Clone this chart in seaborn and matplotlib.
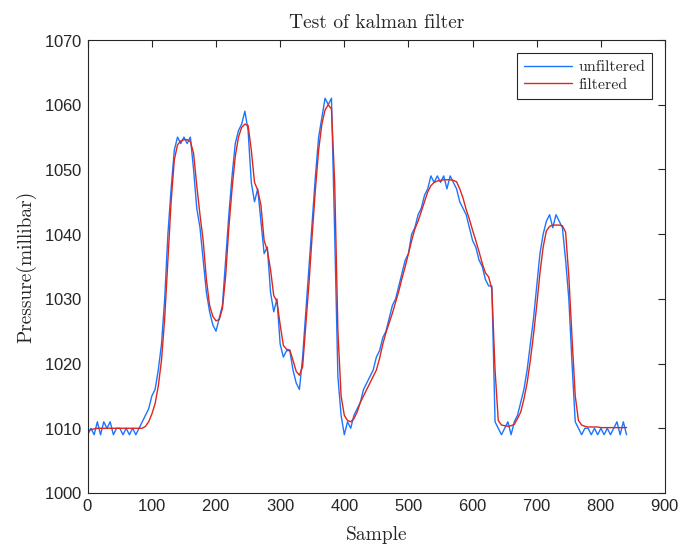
import seaborn as sns
import pandas as pd
import numpy as np
import matplotlib.pyplot as plt

# sample index every 5 samples
samples = list(range(0, 845, 5))

unfiltered = [
    1009, 1010, 1009, 1011, 1009, 1011, 1010, 1011, 1009, 1010,
    1010, 1009, 1010, 1009, 1010, 1009, 1010, 1011, 1012, 1013,
    1015, 1016, 1019, 1023, 1030, 1040, 1047, 1053, 1055, 1054,
    1055, 1054, 1055, 1050, 1044, 1041, 1036, 1031, 1028, 1026,
    1025, 1027, 1029, 1036, 1043, 1049, 1054, 1056, 1057, 1059,
    1056, 1048, 1045, 1047, 1042, 1037, 1038, 1031, 1028, 1030,
    1023, 1021, 1022, 1022, 1019, 1017, 1016, 1021, 1028, 1035,
    1042, 1049, 1055, 1058, 1061, 1060, 1061, 1040, 1018, 1012,
    1009, 1011, 1010, 1012, 1013, 1014, 1016, 1017, 1018, 1019,
    1021, 1022, 1024, 1025, 1027, 1029, 1030, 1032, 1034, 1036,
    1037, 1040, 1041, 1043, 1044, 1046, 1047, 1049, 1048, 1049,
    1048, 1049, 1047, 1049, 1048, 1047, 1045, 1044, 1043, 1041,
    1039, 1038, 1036, 1035, 1033, 1032, 1032, 1011, 1010, 1009,
    1010, 1011, 1009, 1011, 1012, 1014, 1016, 1019, 1023, 1027,
    1032, 1037, 1040, 1042, 1043, 1041, 1043, 1042, 1041, 1036,
    1030, 1020, 1011, 1010, 1009, 1010, 1010, 1009, 1010, 1009,
    1010, 1009, 1010, 1009, 1010, 1011, 1009, 1011, 1009,
]

filtered = [
    1009.6, 1009.8, 1009.9, 1010.0, 1010.0, 1010.0, 1010.0, 1010.0, 1010.0, 1010.0,
    1010.0, 1010.0, 1010.0, 1010.0, 1010.0, 1010.0, 1010.0, 1010.0, 1010.3, 1011.0,
    1012.2, 1013.8, 1016.5, 1020.5, 1027.0, 1036.0, 1045.0, 1051.5, 1053.8, 1054.4,
    1054.6, 1054.6, 1054.3, 1052.5, 1047.5, 1043.0, 1039.0, 1033.0, 1029.0, 1027.3,
    1026.6, 1026.8, 1028.5, 1033.5, 1041.0, 1047.0, 1052.0, 1055.0, 1056.5, 1057.0,
    1056.8, 1053.0, 1048.0, 1046.8, 1044.5, 1039.0, 1037.5, 1034.5, 1030.5, 1029.6,
    1026.0, 1022.8, 1022.2, 1022.1, 1020.5, 1018.8, 1018.2, 1019.5, 1026.0, 1032.5,
    1040.0, 1047.0, 1053.0, 1057.0, 1059.2, 1060.0, 1059.3, 1048.0, 1025.0, 1015.0,
    1012.0, 1011.2, 1011.0, 1011.5, 1012.5, 1014.0, 1015.0, 1016.0, 1017.0, 1018.0,
    1019.0, 1020.8, 1023.0, 1024.8, 1026.3, 1027.8, 1029.5, 1031.2, 1033.2, 1035.0,
    1037.0, 1039.0, 1040.8, 1042.0, 1043.5, 1045.0, 1046.5, 1047.5, 1048.0, 1048.2,
    1048.3, 1048.4, 1048.4, 1048.4, 1048.3, 1048.1, 1047.0, 1045.6, 1043.8, 1042.3,
    1040.6, 1039.0, 1037.3, 1035.5, 1034.0, 1033.4, 1031.5, 1019.0, 1011.2, 1010.5,
    1010.4, 1010.3, 1010.4, 1010.6, 1011.5, 1012.5, 1014.5, 1017.0, 1020.5, 1024.5,
    1029.0, 1034.0, 1038.0, 1040.5, 1041.2, 1041.4, 1041.4, 1041.4, 1041.3, 1040.3,
    1033.5, 1024.0, 1015.0, 1011.2, 1010.5, 1010.3, 1010.2, 1010.2, 1010.2, 1010.2,
    1010.1, 1010.1, 1010.1, 1010.1, 1010.1, 1010.1, 1010.1, 1010.1, 1010.1,
]

df = pd.DataFrame({"Sample": samples, "unfiltered": unfiltered, "filtered": filtered})

sns.set_style("white")
serif = "cmr10"
plt.rcParams["font.family"] = ["Liberation Sans", "DejaVu Sans"]
plt.rcParams["axes.formatter.use_mathtext"] = True

fig = plt.figure(figsize=(6.8, 5.48), dpi=100)
ax = fig.add_axes([0.129, 0.1004, 0.849, 0.8266])

sns.lineplot(x="Sample", y="unfiltered", data=df, color="#1a75ff", linewidth=1.0, label="unfiltered", ax=ax)
sns.lineplot(x="Sample", y="filtered", data=df, color="#e0251b", linewidth=1.0, label="filtered", ax=ax)

ax.set_xlim(0, 900)
ax.set_ylim(1000, 1070)
ax.set_xticks(np.arange(0, 901, 100))
ax.set_yticks(np.arange(1000, 1071, 10))
ax.tick_params(direction="in", top=True, right=True, length=5, width=0.8,
               labelsize=12, colors="#262626")
for s in ax.spines.values():
    s.set_color("#262626")
    s.set_linewidth(0.8)

ax.set_title("Test of kalman filter", fontfamily=serif, fontsize=14, pad=9)
ax.set_xlabel("Sample", fontfamily=serif, fontsize=14, labelpad=9)
ax.set_ylabel("Pressure(millibar)", fontfamily=serif, fontsize=14, labelpad=6)

leg = ax.legend(loc="upper right", prop={"family": serif, "size": 11.5}, fancybox=False,
                edgecolor="#262626", framealpha=1, handlelength=3.0, borderaxespad=0.8,
                handletextpad=0.4, borderpad=0.45, labelspacing=0.2)
leg.get_frame().set_linewidth(0.8)

plt.savefig("out.png", dpi=100)
